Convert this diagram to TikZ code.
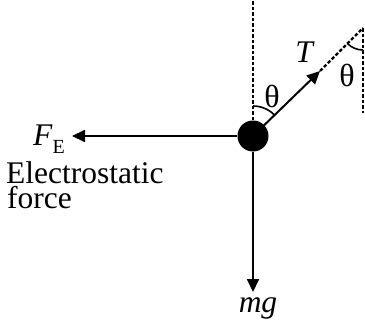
\documentclass[tikz,border=0pt]{standalone}
\usepackage{fontspec}
\setmainfont{Liberation Serif}
\usetikzlibrary{arrows.meta,calc}
\begin{document}
\begin{tikzpicture}[x=1pt,y=1pt,
  force/.style={line width=2pt,-{Triangle[length=13pt,width=12pt]}},
  guide/.style={line width=2.2pt,dash pattern=on 3.5pt off 2pt},
  anglearc/.style={line width=1.6pt},
  lbl/.style={font=\fontsize{31.5}{36}\selectfont,inner sep=0pt},
  glbl/.style={font=\fontsize{32}{36}\selectfont,inner sep=0pt}]
\useasboundingbox (0,0) rectangle (365,325);
\coordinate (top) at (253,325);
\coordinate (pivot) at (363,297);
\coordinate (rbot) at (363,212);
\coordinate (ttip) at (320,254);
\coordinate (fetip) at (72,189);
\coordinate (mgtip) at (253,33);
\node[circle,fill=black,inner sep=0pt,minimum size=31pt] (ball) at (253,189) {};
% dashed guides
\draw[guide] (ball.north) -- (top);
\draw[guide] (pivot) -- (rbot);
\draw[guide] (ttip) -- (pivot);
% forces
\draw[force] (ball.center) -- (ttip);
\draw[force] (ball.west) -- (fetip);
\draw[force] (ball.south) -- (mgtip);
% angle arcs
\draw[anglearc] ($(ball.center)+(90:30)$) arc[start angle=90,end angle=45,radius=30];
\draw[anglearc] ($(pivot)+(225:22)$) arc[start angle=225,end angle=270,radius=22];
% labels
\node[glbl] (th1) at (272,229) {θ};
\node[glbl] (th2) at (347,250) {θ};
\node[lbl,anchor=base] (tl) at (305,262) {\textit{T}};
\node[lbl,anchor=base east] (fe) at (65,179) {\textit{F}\raisebox{-7pt}{\fontsize{20}{22}\selectfont E}};
\node[lbl,anchor=north west,align=left,font=\fontsize{31.5}{25}\selectfont] (el) at (6,164) {Electrostatic\\\hspace*{1pt}force};
\node[lbl,anchor=base] (mg) at (258,13) {\textit{mg}};
\end{tikzpicture}
\end{document}
